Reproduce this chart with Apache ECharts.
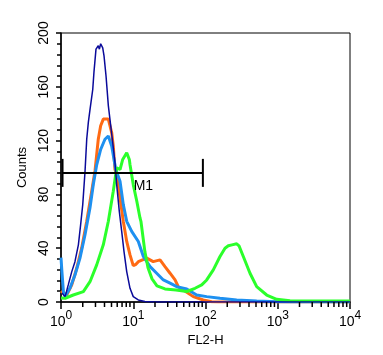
<!DOCTYPE html>
<html>
<head>
<meta charset="utf-8">
<script src="https://cdn.jsdelivr.net/npm/echarts@6/dist/echarts.min.js"></script>
<style>
html,body{margin:0;padding:0;background:#fff;}
#chart{width:383px;height:355px;}
</style>
</head>
<body>
<div id="chart"></div>
<script>
// FL2-H value, count
const navyData = [[1.03,6.7],[1.14,4],[1.26,12.7],[1.41,22.6],[1.56,30],[1.74,42.5],[1.87,57.5],[2.00,72.4],[2.15,97],[2.27,121],[2.39,133.6],[2.52,143],[2.75,158],[2.86,171],[3.05,188],[3.28,190.5],[3.40,188],[3.54,192],[3.78,189],[3.94,183],[4.20,168],[4.52,146],[4.88,131],[5.20,118.4],[5.59,103.5],[5.90,87.3],[6.41,67.4],[6.92,52.5],[7.45,37.5],[8.12,22.6],[9.02,10.2],[10.0,4],[11.75,1.5],[14.5,0.4],[20,0],[10000,0]];
const orangeData = [[1.00,8.2],[1.07,6.7],[1.20,5.2],[1.41,12.7],[1.65,25.1],[1.93,40],[2.27,60],[2.66,82.3],[2.96,97.8],[3.28,121],[3.54,131],[3.85,136],[4.20,136],[4.52,136],[5.03,126],[5.29,116],[5.59,98.5],[5.90,94.8],[6.56,77.4],[7.28,60],[8.12,45],[9.02,35],[10.0,27],[10.9,28],[11.75,30],[12.4,31.3],[15.4,32.6],[18.9,30],[23.5,31.3],[27.5,26.3],[32.3,21.4],[37.9,16.4],[42.0,11.4],[49.3,9],[67.8,4],[93.2,1.5],[121.8,0.2],[150,0],[10000,0]];
const blueData = [[1.00,33],[1.03,22.4],[1.08,7.7],[1.14,4],[1.33,10.2],[1.56,20.1],[1.83,32.6],[2.15,50],[2.52,70],[2.80,87.3],[3.12,102],[3.54,113.4],[4.06,121],[4.52,123.4],[5.03,116],[5.42,106],[5.72,98.5],[6.56,89.8],[7.28,72.4],[8.12,60],[9.52,52.5],[11.75,45],[13.8,33.8],[17.1,26.3],[21.1,21.4],[26.1,16.4],[32.3,14],[40.0,11.4],[55.0,9.7],[75.5,5.2],[103.9,4],[158.7,2.8],[270,1.5],[511,0.7],[967,0.2],[1500,0],[10000,0]];
const greenData = [[1.00,3],[1.14,2.8],[1.48,5.2],[2.04,7.7],[2.52,15.1],[3.12,27.6],[3.85,42.5],[4.52,60],[5.29,82.3],[5.90,99.8],[6.56,98.5],[7.15,106],[8.12,111],[8.82,106],[9.02,102],[10.0,87.3],[11.2,74.9],[12.4,62.5],[12.8,59.7],[14.5,37.3],[16.0,25.4],[18.2,17.2],[21.3,12],[27.5,9.7],[39.1,9],[55.0,7.8],[71.6,10.2],[88.6,12.7],[103.9,16.4],[128.2,23.9],[158.7,33.8],[186.2,40],[206.8,41.8],[232.7,42.5],[248,43.3],[270.3,43.3],[290.9,41.8],[333.7,33.8],[413,21.4],[511,11.4],[703,5.2],[967,2],[1478,1],[4229,0.7],[9686,0.7],[10000,0.7]];

const xMajorExponents = [0,1,2,3,4];
const xMinorTicks = [2,3,4,5,6,7,8,9,20,30,40,50,60,70,80,90,200,300,400,500,600,700,800,900,2000,3000,4000,5000,6000,7000,8000,9000];
const yTicks = [0,40,80,120,160,200];
// marker: [from, to, level]
const markerM1 = [[1.05, 92, 96]];
const markerLabel = 'M1';

const chart = echarts.init(document.getElementById('chart'), null, {renderer:'canvas'});
const font = 'Liberation Sans, Arial, Helvetica, sans-serif';

function lineSeries(name, data, color, width){
  return {name, type:'line', data, showSymbol:false, symbol:'none', smooth:false,
    lineStyle:{color, width}, animation:false, z:2};
}

chart.setOption({
  animation:false,
  backgroundColor:'#fff',
  grid:{left:61, right:33, top:33, bottom:53, show:true, borderColor:'#000', borderWidth:1, backgroundColor:'transparent'},
  xAxis:{
    type:'log', logBase:10, min:1, max:10000,
    name:'FL2-H', nameLocation:'middle', nameGap:27,
    nameTextStyle:{fontFamily:font, fontSize:13, color:'#000'},
    axisLine:{show:true, lineStyle:{color:'#000', width:1.5}},
    axisTick:{show:true, length:7, lineStyle:{color:'#000', width:1.5}},
    splitLine:{show:false},
    axisLabel:{
      margin:8, color:'#000', fontFamily:font,
      formatter:function(v){
        const e = Math.round(Math.log10(v));
        if (xMajorExponents.indexOf(e) < 0) return '';
        return '{b|10}{s|' + e + '}';
      },
      rich:{
        b:{fontSize:14, fontFamily:font, color:'#000', lineHeight:19, verticalAlign:'bottom'},
        s:{fontSize:12, fontFamily:font, color:'#000', lineHeight:13, verticalAlign:'top'}
      }
    }
  },
  yAxis:{
    type:'value', min:0, max:200, interval:40,
    name:'Counts', nameLocation:'middle', nameGap:24, nameRotate:90,
    nameTextStyle:{fontFamily:font, fontSize:13, color:'#000'},
    axisLine:{show:true, lineStyle:{color:'#000', width:1.5}},
    axisTick:{show:true, length:5, lineStyle:{color:'#000', width:1.5}},
    minorTick:{show:true, splitNumber:5, length:4, lineStyle:{color:'#000', width:1.5}},
    splitLine:{show:false},
    axisLabel:{rotate:90, margin:10, color:'#000', fontFamily:font, fontSize:14,
      formatter:function(v){ return yTicks.indexOf(v) >= 0 ? String(v) : ''; }}
  },
  series:[
    lineSeries('orange', orangeData, '#ff6a14', 3),
    lineSeries('blue', blueData, '#1e90f0', 3),
    lineSeries('green', greenData, '#2bff2b', 3),
    lineSeries('navy', navyData, '#0a0a9a', 1.5),
    {
      type:'custom', name:'minorTicks', data:xMinorTicks.map(v=>[v,0]), clip:false, z:5, silent:true,
      renderItem:function(params, api){
        const p = api.coord([api.value(0), 0]);
        return {type:'line', shape:{x1:p[0], y1:p[1], x2:p[0], y2:p[1]+5}, style:{stroke:'#000', lineWidth:1.5}};
      }
    },
    {
      type:'custom', name:'M1', data:markerM1, clip:false, z:6, silent:true,
      renderItem:function(params, api){
        const a = api.coord([api.value(0), api.value(2)]);
        const b = api.coord([api.value(1), api.value(2)]);
        const h = 14;
        const midLog = (Math.log10(api.value(0)) + Math.log10(api.value(1))) / 2;
        const m = api.coord([Math.pow(10, midLog), api.value(2)]);
        return {type:'group', children:[
          {type:'line', shape:{x1:a[0], y1:a[1], x2:b[0], y2:b[1]}, style:{stroke:'#000', lineWidth:2}},
          {type:'line', shape:{x1:a[0], y1:a[1]-h, x2:a[0], y2:a[1]+h}, style:{stroke:'#000', lineWidth:2}},
          {type:'line', shape:{x1:b[0], y1:b[1]-h, x2:b[0], y2:b[1]+h}, style:{stroke:'#000', lineWidth:2}},
          {type:'text', style:{x:m[0]+1, y:m[1]+6, text:markerLabel, fill:'#000', font:'14px ' + font, textAlign:'left', textVerticalAlign:'top'}}
        ]};
      }
    }
  ]
});
</script>
</body>
</html>
